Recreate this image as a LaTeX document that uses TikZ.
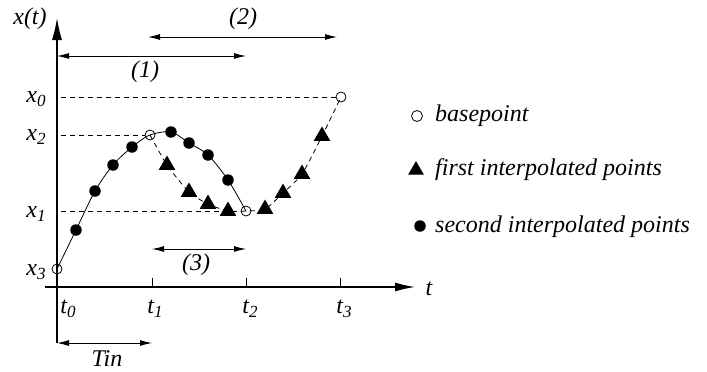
\documentclass[tikz,border=0pt]{standalone}
\usepackage{fontspec}
\setmainfont{Liberation Serif}
\usetikzlibrary{shapes.geometric,arrows.meta}
\newcommand{\sbs}[1]{\raisebox{-0.35ex}{\fontsize{17}{18}\selectfont #1}}
\begin{document}
\begin{tikzpicture}[x=1pt,y=-1pt,
  lbl/.style={font=\fontsize{24}{27}\selectfont\itshape, inner sep=0},
  base/.style={circle,draw,line width=0.8,minimum size=10,inner sep=0},
  dot/.style={circle,fill,minimum size=11.5,inner sep=0},
  tri/.style={regular polygon,regular polygon sides=3,fill,minimum size=19,inner sep=0},
  dim/.style={line width=0.9,{Latex[length=12,width=6]}-{Latex[length=12,width=6]}},
  axis/.style={line width=1.3},
  guide/.style={dashed,line width=0.8,dash pattern=on 5pt off 4pt},
  ]
\useasboundingbox (0,0) rectangle (707,372);
% key points
\coordinate (P3) at (57,269);
\coordinate (P2) at (150,135);
\coordinate (P1) at (246,211);
\coordinate (P0) at (341,97);
\coordinate (D1) at (76,230);
\coordinate (D2) at (95,191);
\coordinate (D3) at (113,165);
\coordinate (D4) at (132,147);
\coordinate (D5) at (171,132);
\coordinate (D6) at (189,143);
\coordinate (D7) at (208,155);
\coordinate (D8) at (228,180);
\coordinate (R1) at (167,165);
\coordinate (R2) at (189,192);
\coordinate (R3) at (208,204);
\coordinate (R4) at (228,211);
\coordinate (R5) at (265,209);
\coordinate (R6) at (283,193);
\coordinate (R7) at (302,174);
\coordinate (R8) at (322,136);
% axes
\coordinate (xa0) at (45,287);
\coordinate (xa1) at (415,287);
\coordinate (ya0) at (57,343);
\coordinate (ya1) at (57,18);
\draw[axis,-{Latex[length=20,width=9]}] (xa0) -- (xa1);
\draw[axis,-{Latex[length=22,width=10]}] (ya0) -- (ya1);
\node[lbl] (tlab) at (429,289) {t};
\node[lbl] (xlab) at (30,19) {x(t)};
% ticks
\coordinate (T1) at (152,287);
\coordinate (T2) at (246,287);
\coordinate (T3) at (340,287);
\foreach \t in {T1,T2,T3} \draw[line width=0.9] (\t) -- ++(0,-9);
\node[lbl] (t0) at (68,309) {t\sbs{0}};
\node[lbl] (t1) at (155,309) {t\sbs{1}};
\node[lbl] (t2) at (250,309) {t\sbs{2}};
\node[lbl] (t3) at (344,309) {t\sbs{3}};
% x labels
\node[lbl] (x0) at (36,99) {x\sbs{0}};
\node[lbl] (x2) at (36,137) {x\sbs{2}};
\node[lbl] (x1) at (36,214) {x\sbs{1}};
\node[lbl] (x3) at (36,272) {x\sbs{3}};
% guide lines
\draw[guide] ([xshift=4]P0 -| ya0) -- ([xshift=-5]P0);
\draw[guide] ([xshift=4]P2 -| ya0) -- ([xshift=-5]P2);
\draw[guide] ([xshift=4]P1 -| ya0) -- ([xshift=-5]P1);
% curves
\draw[line width=0.8] plot[smooth,tension=0.5] coordinates {(P3) (D1) (D2) (D3) (D4) (P2) (D5) (D6) (D7) (D8) (P1)};
\draw[guide] plot[smooth,tension=0.4] coordinates {(P2) (R1) (R2) (R3) (R4) (P1) (R5) (R6) (R7) (R8) (P0)};
% markers
\foreach \p in {P0,P1,P2,P3} \node[base] (m\p) at (\p) {};
\foreach \p in {D1,D2,D3,D4,D5,D6,D7,D8} \node[dot] (m\p) at (\p) {};
\foreach \p in {R1,R2,R3,R4,R5,R6,R7,R8} \node[tri] (m\p) at (\p) {};
% dimension arrows
\coordinate (A1a) at (57,56);  \coordinate (A1b) at (246,56);
\coordinate (A2a) at (148,37); \coordinate (A2b) at (337,37);
\coordinate (A3a) at (152,249); \coordinate (A3b) at (246,249);
\coordinate (A4a) at (57,343); \coordinate (A4b) at (152,343);
\draw[dim] (A1a) -- (A1b);
\draw[dim] (A2a) -- (A2b);
\draw[dim] (A3a) -- (A3b);
\draw[dim] (A4a) -- (A4b);
\node[lbl] (l1) at (145,72) {(1)};
\node[lbl] (l2) at (243,19) {(2)};
\node[lbl] (l3) at (196,265) {(3)};
\node[lbl] (tin) at (107,359) {Tin};
% legend
\node[base,minimum size=11] (k1) at (417,116) {};
\node[tri,minimum size=18] (k2) at (416,170) {};
\node[dot] (k3) at (420,226) {};
\node[lbl,anchor=west] (k1t) at (435,116) {basepoint};
\node[lbl,anchor=west] (k2t) at (435,170) {first interpolated points};
\node[lbl,anchor=west] (k3t) at (435,227) {second interpolated points};
\end{tikzpicture}
\end{document}
